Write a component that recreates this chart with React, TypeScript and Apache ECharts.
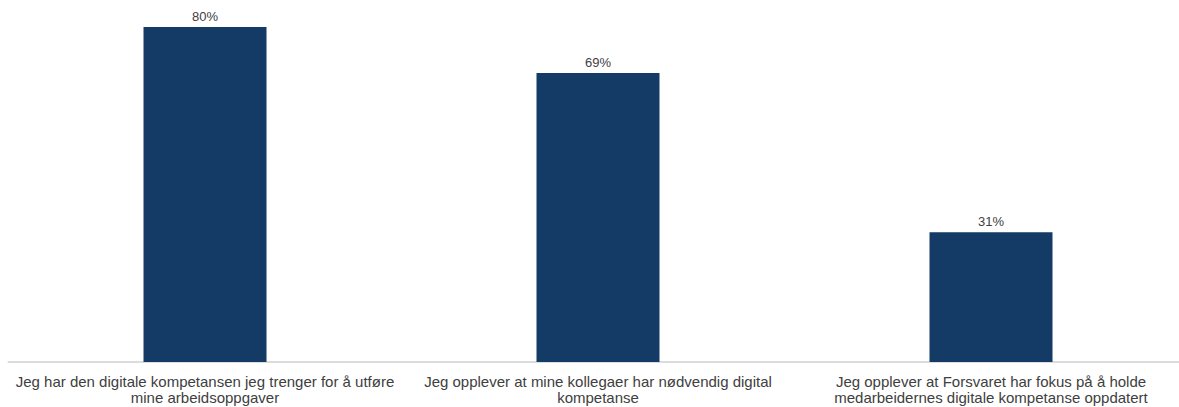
import React, { useEffect, useRef } from "react";
import * as echarts from "echarts";

const categories: string[] = [
  "Jeg har den digitale kompetansen jeg trenger for å utføre\nmine arbeidsoppgaver",
  "Jeg opplever at mine kollegaer har nødvendig digital\nkompetanse",
  "Jeg opplever at Forsvaret har fokus på å holde\nmedarbeidernes digitale kompetanse oppdatert",
];
const values: number[] = [80, 69, 31];

export default function App() {
  const ref = useRef<HTMLDivElement>(null);
  useEffect(() => {
    if (!ref.current) return;
    const chart = echarts.init(ref.current, undefined, { renderer: "svg" });
    chart.setOption({
      animation: false,
      grid: { left: 8.5, top: 27, width: 1179, height: 335, containLabel: false },
      xAxis: {
        type: "category",
        data: categories,
        axisLine: { show: true, lineStyle: { color: "#dcdcdc", width: 2 } },
        axisTick: { show: false },
        axisLabel: {
          interval: 0,
          margin: 11,
          color: "#404040",
          fontFamily: "Liberation Sans, Arial, sans-serif",
          fontSize: 15,
          lineHeight: 16,
        },
      },
      yAxis: {
        type: "value",
        min: 0,
        max: 80,
        show: false,
        splitLine: { show: false },
      },
      series: [
        {
          type: "bar",
          data: values,
          barWidth: 123,
          itemStyle: { color: "#143a66" },
          label: {
            show: true,
            position: "top",
            distance: 4,
            formatter: "{c}%",
            color: "#404040",
            fontFamily: "Liberation Sans, Arial, sans-serif",
            fontSize: 13,
          },
        },
      ],
    });
    return () => chart.dispose();
  }, []);
  return (
    <div
      style={{
        position: "absolute",
        left: 0,
        top: 0,
        width: 1179,
        height: 407,
        overflow: "hidden",
      }}
    >
      <div ref={ref} style={{ width: 1200, height: 407 }} />
    </div>
  );
}
